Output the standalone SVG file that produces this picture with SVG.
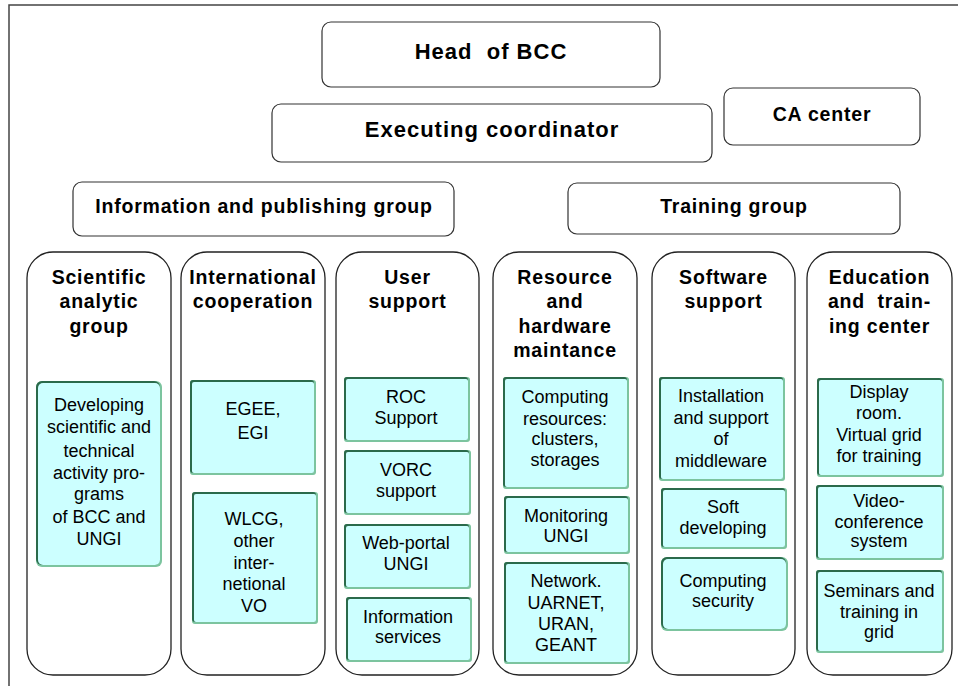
<svg xmlns="http://www.w3.org/2000/svg" width="958" height="686" viewBox="0 0 958 686">
<style>
.top{fill:#fff;stroke:#333;stroke-width:1.2}
.col{fill:#fff;stroke:#222;stroke-width:1.3}
.hb{font-family:"Liberation Sans",Arial,sans-serif;font-weight:bold;font-size:22px;letter-spacing:1px;text-anchor:middle;fill:#000;white-space:pre}
.tb{font-family:"Liberation Sans",Arial,sans-serif;font-weight:bold;font-size:19.5px;letter-spacing:0.8px;text-anchor:middle;fill:#000;white-space:pre}
.it{font-family:"Liberation Sans",Arial,sans-serif;font-size:18px;text-anchor:middle;fill:#000}
.sh{fill:#7cc49f}
.dk{fill:#2b6a4b}
.bx{fill:#ccffff}
</style>
<defs>
<g id="dummy"/>
</defs>
<rect x="0" y="0" width="958" height="686" fill="#fff"/>
<path d="M9,686 V5 H958" fill="none" stroke="#444" stroke-width="1.5"/>

<g id="head">
<rect class="top" x="322" y="22" width="338" height="65" rx="9"/>
<text class="hb" x="491" y="59">Head  of BCC</text>
</g>
<g id="exec">
<rect class="top" x="272" y="104" width="440" height="58" rx="9"/>
<text class="hb" x="492" y="137">Executing coordinator</text>
</g>
<g id="ca">
<rect class="top" x="724" y="88" width="196" height="57" rx="9"/>
<text class="tb" x="822" y="120.5">CA center</text>
</g>
<g id="info">
<rect class="top" x="73" y="182" width="381" height="54" rx="9"/>
<text class="tb" x="264" y="213">Information and publishing group</text>
</g>
<g id="training">
<rect class="top" x="568" y="183" width="332" height="51" rx="9"/>
<text class="tb" x="734" y="213">Training group</text>
</g>

<g id="col-sci">
<rect class="col" x="27" y="252" width="144" height="423" rx="26"/>
<text class="tb" x="99" y="284">Scientific</text>
<text class="tb" x="99" y="308.3">analytic</text>
<text class="tb" x="99" y="332.6">group</text>
<g id="sci-1">
<rect class="sh" x="36" y="381" width="126" height="186" rx="6"/>
<rect class="dk" x="36" y="381" width="124" height="184" rx="6"/>
<rect class="bx" x="38" y="383" width="122" height="182" rx="5"/>
<text class="it" x="99" y="411">Developing</text>
<text class="it" x="99" y="433">scientific and</text>
<text class="it" x="99" y="456.5">technical</text>
<text class="it" x="99" y="478.5">activity pro-</text>
<text class="it" x="99" y="500">grams</text>
<text class="it" x="99" y="523">of BCC and</text>
<text class="it" x="99" y="545">UNGI</text>
</g>
</g>

<g id="col-int">
<rect class="col" x="181" y="252" width="144" height="423" rx="26"/>
<text class="tb" x="253" y="284">International</text>
<text class="tb" x="253" y="308.3">cooperation</text>
<g id="int-1">
<rect class="sh" x="190" y="380" width="126" height="95" rx="3"/>
<rect class="dk" x="190" y="380" width="124" height="93" rx="3"/>
<rect class="bx" x="192" y="382" width="122" height="91" rx="2"/>
<text class="it" x="253" y="415">EGEE,</text>
<text class="it" x="253" y="439">EGI</text>
</g>
<g id="int-2">
<rect class="sh" x="192" y="492" width="126" height="132" rx="3"/>
<rect class="dk" x="192" y="492" width="124" height="130" rx="3"/>
<rect class="bx" x="194" y="494" width="122" height="128" rx="2"/>
<text class="it" x="254" y="525">WLCG,</text>
<text class="it" x="254" y="547">other</text>
<text class="it" x="254" y="568.5">inter-</text>
<text class="it" x="254" y="590">netional</text>
<text class="it" x="254" y="612">VO</text>
</g>
</g>

<g id="col-user">
<rect class="col" x="336" y="252" width="143" height="423" rx="26"/>
<text class="tb" x="407.5" y="284">User</text>
<text class="tb" x="407.5" y="308.3">support</text>
<g id="user-1">
<rect class="sh" x="344" y="377" width="126" height="65" rx="3"/>
<rect class="dk" x="344" y="377" width="124" height="63" rx="3"/>
<rect class="bx" x="346" y="379" width="122" height="61" rx="2"/>
<text class="it" x="406" y="403">ROC</text>
<text class="it" x="406" y="424">Support</text>
</g>
<g id="user-2">
<rect class="sh" x="344" y="450" width="127" height="65" rx="3"/>
<rect class="dk" x="344" y="450" width="125" height="63" rx="3"/>
<rect class="bx" x="346" y="452" width="123" height="61" rx="2"/>
<text class="it" x="406" y="476">VORC</text>
<text class="it" x="406" y="497">support</text>
</g>
<g id="user-3">
<rect class="sh" x="344" y="524" width="127" height="65" rx="3"/>
<rect class="dk" x="344" y="524" width="125" height="63" rx="3"/>
<rect class="bx" x="346" y="526" width="123" height="61" rx="2"/>
<text class="it" x="406" y="549">Web-portal</text>
<text class="it" x="406" y="570">UNGI</text>
</g>
<g id="user-4">
<rect class="sh" x="346" y="597" width="126" height="65" rx="3"/>
<rect class="dk" x="346" y="597" width="124" height="63" rx="3"/>
<rect class="bx" x="348" y="599" width="122" height="61" rx="2"/>
<text class="it" x="408" y="623">Information</text>
<text class="it" x="408" y="643">services</text>
</g>
</g>

<g id="col-res">
<rect class="col" x="493" y="252" width="144" height="423" rx="26"/>
<text class="tb" x="565" y="284">Resource</text>
<text class="tb" x="565" y="308.3">and</text>
<text class="tb" x="565" y="332.6">hardware</text>
<text class="tb" x="565" y="357">maintance</text>
<g id="res-1">
<rect class="sh" x="503" y="377" width="126" height="112" rx="3"/>
<rect class="dk" x="503" y="377" width="124" height="110" rx="3"/>
<rect class="bx" x="505" y="379" width="122" height="108" rx="2"/>
<text class="it" x="565" y="403">Computing</text>
<text class="it" x="565" y="424.5">resources:</text>
<text class="it" x="565" y="445">clusters,</text>
<text class="it" x="565" y="466">storages</text>
</g>
<g id="res-2">
<rect class="sh" x="504" y="496" width="126" height="58" rx="3"/>
<rect class="dk" x="504" y="496" width="124" height="56" rx="3"/>
<rect class="bx" x="506" y="498" width="122" height="54" rx="2"/>
<text class="it" x="566" y="522">Monitoring</text>
<text class="it" x="566" y="542">UNGI</text>
</g>
<g id="res-3">
<rect class="sh" x="504" y="562" width="126" height="102" rx="3"/>
<rect class="dk" x="504" y="562" width="124" height="100" rx="3"/>
<rect class="bx" x="506" y="564" width="122" height="98" rx="2"/>
<text class="it" x="566" y="587">Network.</text>
<text class="it" x="566" y="608.5">UARNET,</text>
<text class="it" x="566" y="630">URAN,</text>
<text class="it" x="566" y="651">GEANT</text>
</g>
</g>

<g id="col-soft">
<rect class="col" x="652" y="252" width="143" height="423" rx="26"/>
<text class="tb" x="723.5" y="284">Software</text>
<text class="tb" x="723.5" y="308.3">support</text>
<g id="soft-1">
<rect class="sh" x="659" y="377" width="126" height="104" rx="3"/>
<rect class="dk" x="659" y="377" width="124" height="102" rx="3"/>
<rect class="bx" x="661" y="379" width="122" height="100" rx="2"/>
<text class="it" x="721" y="402">Installation</text>
<text class="it" x="721" y="424">and support</text>
<text class="it" x="721" y="445">of</text>
<text class="it" x="721" y="467">middleware</text>
</g>
<g id="soft-2">
<rect class="sh" x="661" y="488" width="126" height="61" rx="3"/>
<rect class="dk" x="661" y="488" width="124" height="59" rx="3"/>
<rect class="bx" x="663" y="490" width="122" height="57" rx="2"/>
<text class="it" x="723" y="513">Soft</text>
<text class="it" x="723" y="534">developing</text>
</g>
<g id="soft-3">
<rect class="sh" x="661" y="557" width="127" height="74" rx="6"/>
<rect class="dk" x="661" y="557" width="125" height="72" rx="6"/>
<rect class="bx" x="663" y="559" width="123" height="70" rx="5"/>
<text class="it" x="723" y="587">Computing</text>
<text class="it" x="723" y="607">security</text>
</g>
</g>

<g id="col-edu">
<rect class="col" x="807" y="252" width="145" height="423" rx="26"/>
<text class="tb" x="879.5" y="284">Education</text>
<text class="tb" x="879.5" y="308.3">and  train-</text>
<text class="tb" x="879.5" y="332.6">ing center</text>
<g id="edu-1">
<rect class="sh" x="817" y="378" width="127" height="99" rx="3"/>
<rect class="dk" x="817" y="378" width="125" height="97" rx="3"/>
<rect class="bx" x="819" y="380" width="123" height="95" rx="2"/>
<text class="it" x="879" y="398">Display</text>
<text class="it" x="879" y="419">room.</text>
<text class="it" x="879" y="440.5">Virtual grid</text>
<text class="it" x="879" y="462">for training</text>
</g>
<g id="edu-2">
<rect class="sh" x="816" y="485" width="128" height="75" rx="3"/>
<rect class="dk" x="816" y="485" width="126" height="73" rx="3"/>
<rect class="bx" x="818" y="487" width="124" height="71" rx="2"/>
<text class="it" x="879" y="507">Video-</text>
<text class="it" x="879" y="527.5">conference</text>
<text class="it" x="879" y="547">system</text>
</g>
<g id="edu-3">
<rect class="sh" x="816" y="570" width="128" height="83" rx="3"/>
<rect class="dk" x="816" y="570" width="126" height="81" rx="3"/>
<rect class="bx" x="818" y="572" width="124" height="79" rx="2"/>
<text class="it" x="879" y="597">Seminars and</text>
<text class="it" x="879" y="618">training in</text>
<text class="it" x="879" y="638">grid</text>
</g>
</g>

<g id="connectors"/>
</svg>
